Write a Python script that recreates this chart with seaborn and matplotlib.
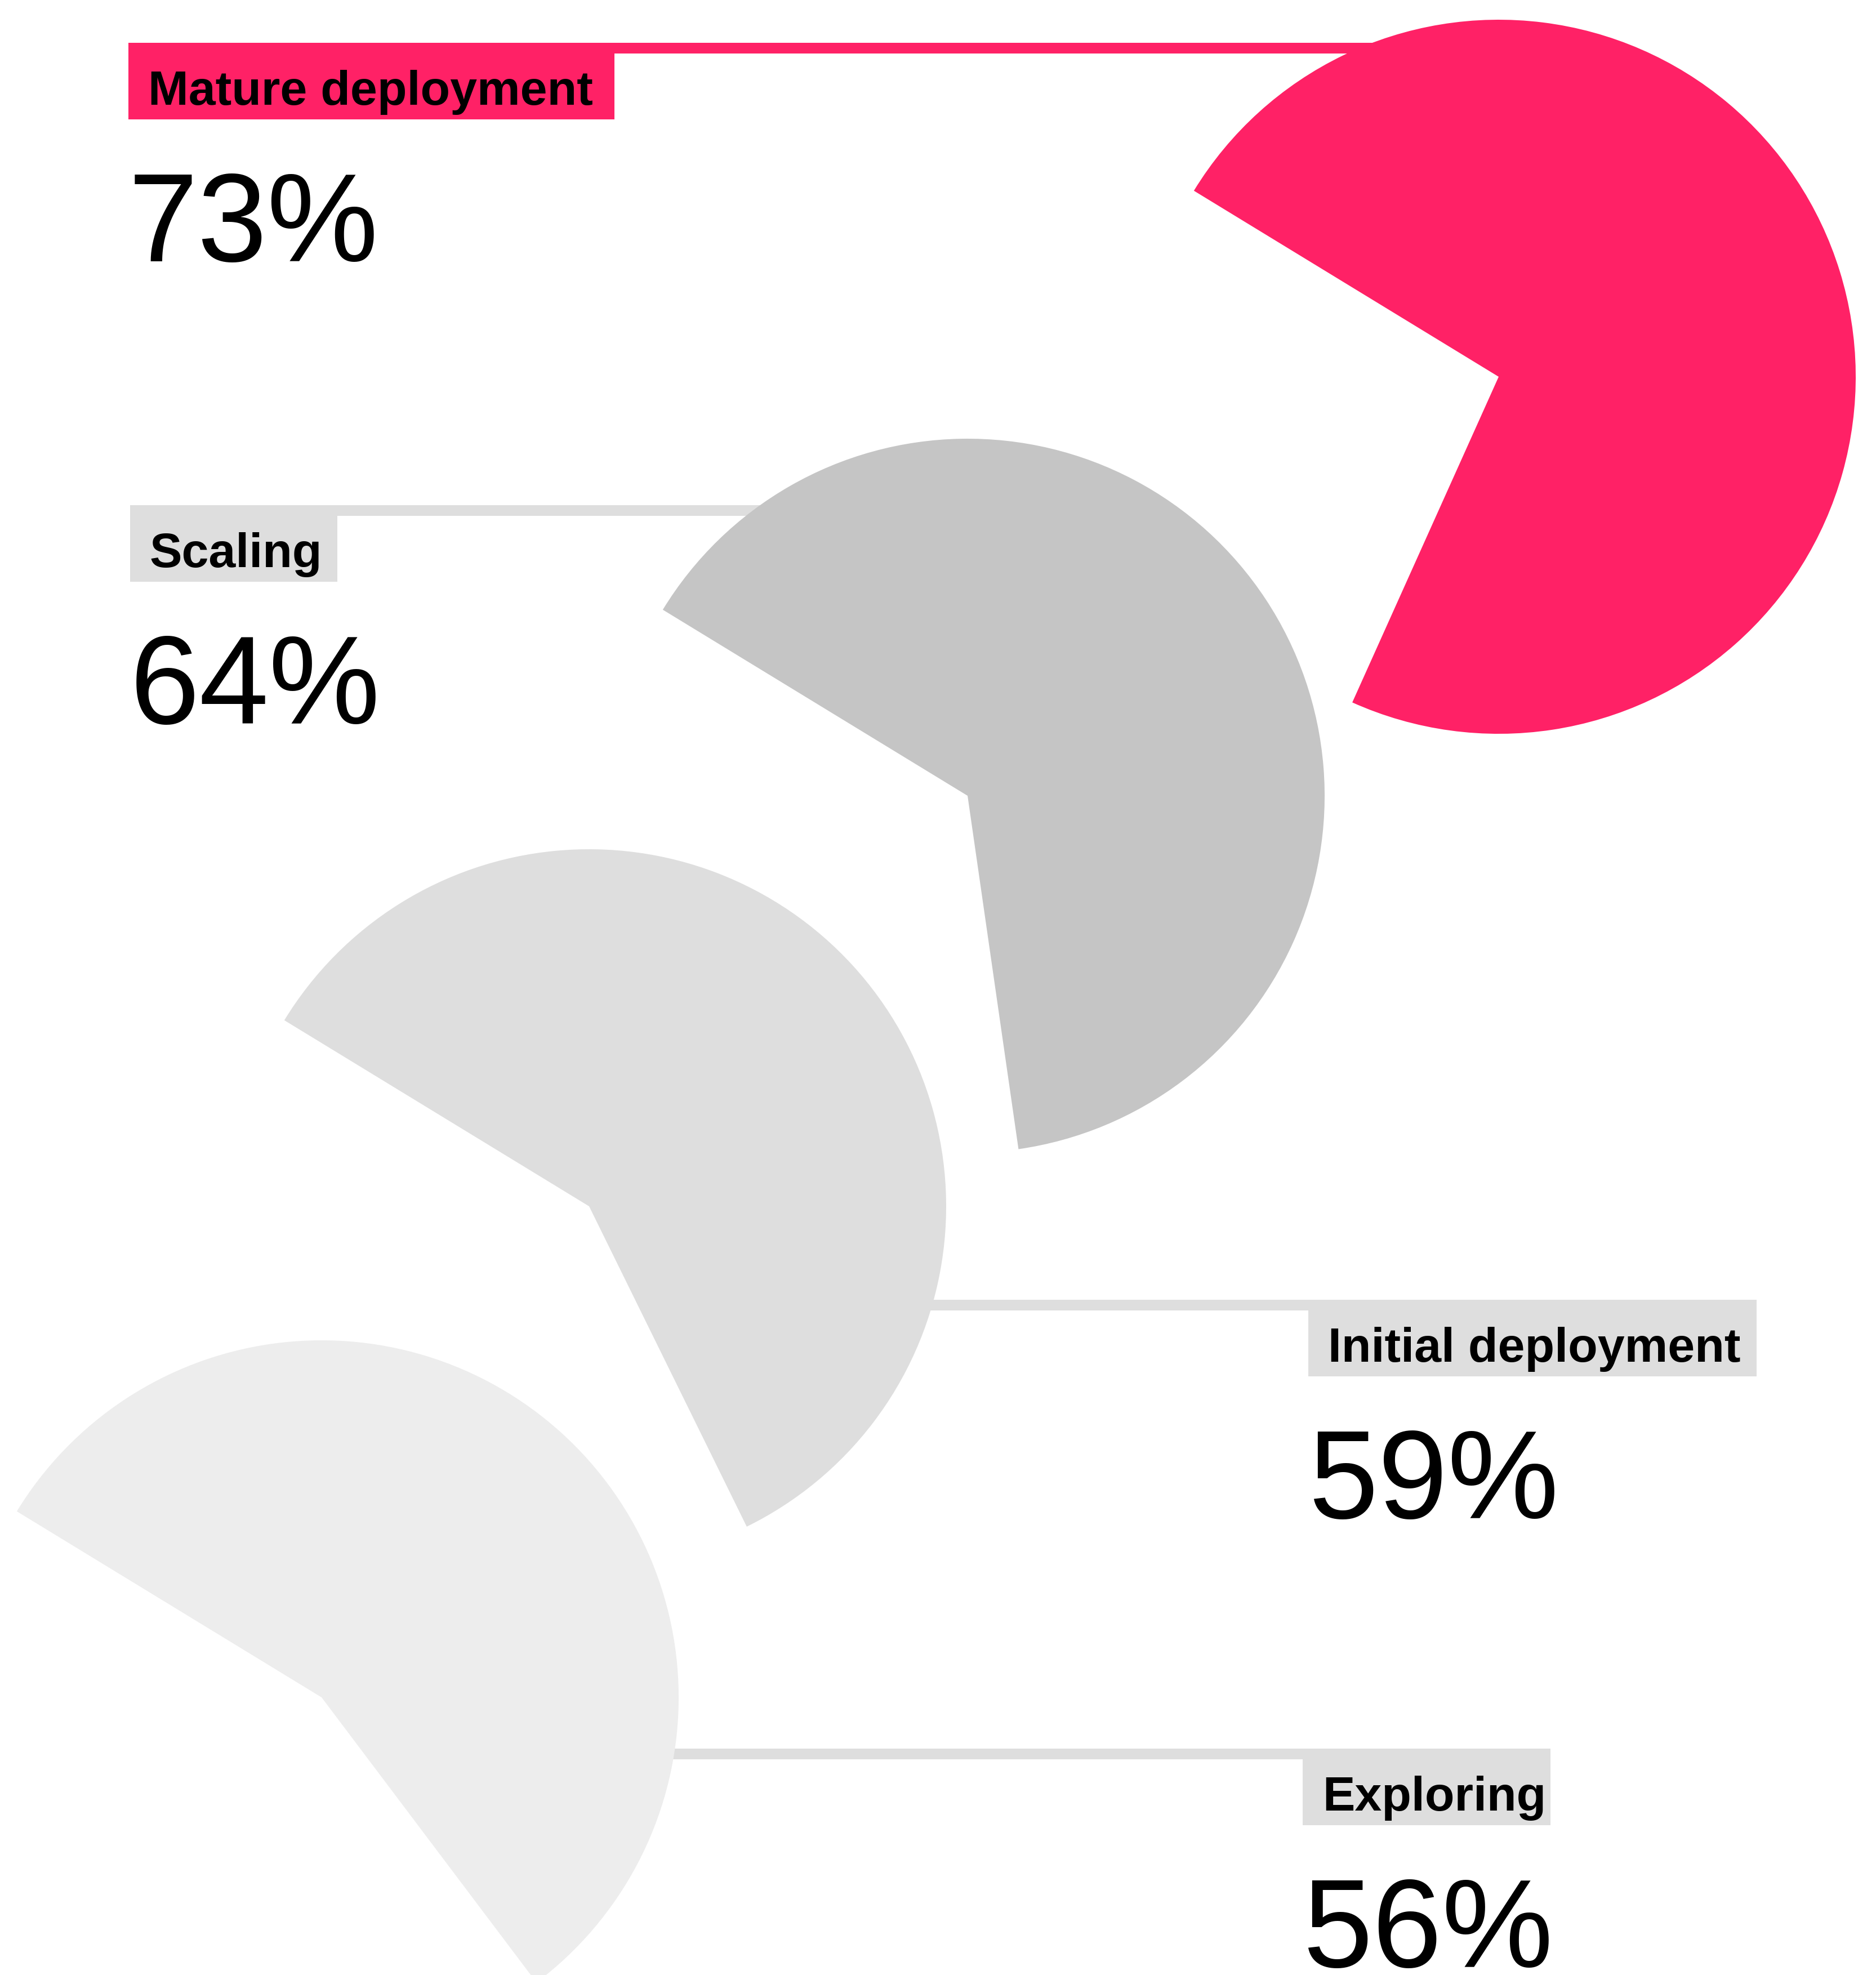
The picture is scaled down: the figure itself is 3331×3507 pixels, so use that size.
import math

import matplotlib
matplotlib.use("Agg")
import matplotlib.pyplot as plt
from matplotlib import font_manager
from matplotlib.patches import Rectangle
import seaborn as sns

# ---- data -------------------------------------------------------------
categories = ["Mature deployment", "Scaling", "Initial deployment", "Exploring"]
values = [73, 64, 59, 56]
wedge_colors = ["#ff2166", "#c5c5c5", "#dedede", "#ededed"]
tag_colors = ["#ff2166", "#dedede", "#dedede", "#dedede"]

# ---- canvas -----------------------------------------------------------
W, H = 3331, 3507
DPI = 100

sns.set_theme(style="white")
plt.rcParams["font.family"] = ["Liberation Sans", "DejaVu Sans"]


def font_available(name, weight="bold"):
    try:
        font_manager.findfont(font_manager.FontProperties(family=name, weight=weight),
                              fallback_to_default=False)
        return True
    except Exception:
        return False


if font_available("Liberation Sans Narrow"):
    tag_family = ["Liberation Sans Narrow", "DejaVu Sans"]
    tag_size = 72
else:
    tag_family = ["Liberation Sans", "DejaVu Sans"]
    tag_size = 62

# pie centres (pixels from top-left) and shared radius
centres = [(2661, 669), (1718, 1413), (1046, 2142), (571, 3014)]
radius = 634
start_angle = 148.6

# tag boxes: left, top, right, bottom (pixels from top-left)
tags = [(228, 76, 1091, 212), (231, 897, 599, 1033),
        (2323, 2308, 3119, 2444), (2313, 3105, 2753, 3241)]
band_side = ["right", "right", "left", "left"]
band_h = 19
tuck = 12  # how far a band slides under the arc of its pie

fig = plt.figure(figsize=(W / DPI, H / DPI), dpi=DPI)
ax = fig.add_axes([0, 0, 1, 1])


def fy(y):
    return H - y


def arc_half_width(cy, y_top, y_bot):
    """Horizontal half-chord of the circle at the band edge farther from centre."""
    dy = max(abs(y_top - cy), abs(y_bot - cy))
    return math.sqrt(max(radius ** 2 - dy ** 2, 0.0))


# connector bands and tag boxes
for (l, t, r, b), side, (cx, cy), col in zip(tags, band_side, centres, tag_colors):
    half = arc_half_width(cy, t, t + band_h)
    if side == "right":
        x0, x1 = l, cx - half + tuck
    else:
        x0, x1 = cx + half - tuck, r
    ax.add_patch(Rectangle((x0, fy(t + band_h)), x1 - x0, band_h,
                           facecolor=col, edgecolor="none", zorder=1))
    ax.add_patch(Rectangle((l, fy(b)), r - l, b - t,
                           facecolor=col, edgecolor="none", zorder=1))

# one partial pie per stage
for v, (cx, cy), col in zip(values, centres, wedge_colors):
    wedges, _ = ax.pie([v / 100], normalize=False, colors=[col],
                       startangle=start_angle, counterclock=False,
                       center=(cx, fy(cy)), radius=radius,
                       wedgeprops=dict(linewidth=0, edgecolor="none"),
                       frame=True)
    for w in wedges:
        w.set_zorder(2)

# tag text and big percentage
for name, v, (l, t, r, b) in zip(categories, values, tags):
    ax.text(l + 35, fy(t + 110), name, ha="left", va="baseline",
            fontsize=tag_size, fontweight="bold", family=tag_family,
            color="#000000", zorder=5)
    ax.text(l, fy(t + 388), f"{v}%", ha="left", va="baseline",
            fontsize=160, fontweight="normal",
            family=["Liberation Sans", "DejaVu Sans"],
            color="#000000", zorder=5)

ax.set_xlim(0, W)
ax.set_ylim(0, H)
ax.set_aspect("equal")
ax.set_axis_off()

fig.savefig("out.png", dpi=DPI, facecolor="white")
